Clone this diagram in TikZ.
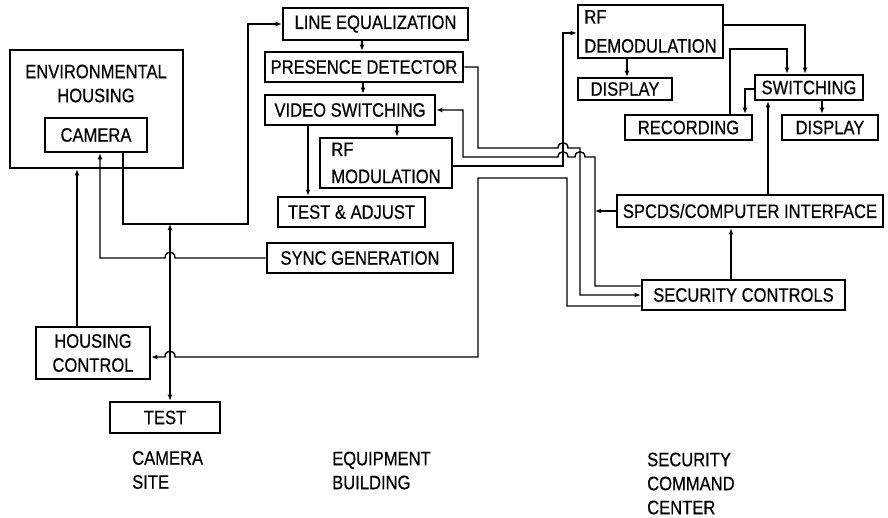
\documentclass[tikz,border=0pt]{standalone}
\usepackage{fontspec}
\setmainfont{Liberation Sans}[FakeStretch=0.85,FakeBold=0.4]
\usetikzlibrary{arrows.meta}
\newcommand\dfont{\fontsize{19.5}{24}\selectfont}
\begin{document}
\begin{tikzpicture}[x=1pt,y=-1pt,
  box/.style={draw, line width=2.6pt, inner sep=0pt, font=\dfont, align=center},
  wire/.style={line width=1.4pt, line join=miter},
  arr/.style={wire, -{Latex[length=6pt,width=5pt]}},
  dbl/.style={wire, {Latex[length=6pt,width=5pt]}-{Latex[length=6pt,width=5pt]}},
  lbl/.style={inner sep=0pt, font=\dfont, align=left, anchor=west}]
\path[fill=white] (0,0) rectangle (888,517);
\useasboundingbox (0,0) rectangle (888,517);

% camera site
\node[box, minimum width=173pt, minimum height=118pt] (env) at (96.5,109) {};
\node[lbl, anchor=center, align=center] (envlbl) at (96,83.5) {ENVIRONMENTAL\\HOUSING};
\node[box, minimum width=102pt, minimum height=34pt] (camera) at (96,135) {CAMERA};
\node[box, minimum width=114pt, minimum height=52pt] (hc) at (93,353) {HOUSING\\CONTROL};
\node[box, minimum width=110pt, minimum height=31pt] (test) at (165,417.5) {TEST};

% equipment building
\node[box, minimum width=185pt, minimum height=32pt] (lineeq) at (375.5,24) {LINE EQUALIZATION};
\node[box, minimum width=198pt, minimum height=30pt] (pd) at (364,67) {PRESENCE DETECTOR};
\node[box, minimum width=170pt, minimum height=30pt] (vs) at (350,110) {VIDEO SWITCHING};
\node[box, minimum width=132pt, minimum height=50pt, align=left, font=\fontsize{19.5}{27}\selectfont] (rfmod) at (386,163) {RF\\MODULATION};
\node[box, minimum width=147pt, minimum height=30pt] (ta) at (351.5,212) {TEST \& ADJUST};
\node[box, minimum width=186pt, minimum height=30pt] (sync) at (360,258) {SYNC GENERATION};

% security command center
\node[box, minimum width=145pt, minimum height=53pt, align=left, font=\fontsize{19.5}{29}\selectfont] (rfdemod) at (650.5,31.5) {RF\\DEMODULATION};
\node[box, minimum width=94pt, minimum height=22pt] (disp1) at (625,89) {DISPLAY};
\node[box, minimum width=108pt, minimum height=25pt] (switch) at (809,87.5) {SWITCHING};
\node[box, minimum width=127pt, minimum height=25pt] (rec) at (688.5,127.5) {RECORDING};
\node[box, minimum width=96pt, minimum height=25pt] (disp2) at (830,127.5) {DISPLAY};
\node[box, minimum width=266pt, minimum height=32pt] (spcds) at (750,211) {SPCDS/COMPUTER INTERFACE};
\node[box, minimum width=203pt, minimum height=30pt] (secctrl) at (743.5,295) {SECURITY CONTROLS};

% area labels
\node[lbl] (camsite) at (132,470) {CAMERA\\SITE};
\node[lbl] (eqbld) at (332,470.5) {EQUIPMENT\\BUILDING};
\node[lbl] (sccenter) at (647,483.5) {SECURITY\\COMMAND\\CENTER};

% junction coordinates
\coordinate (tj) at (170,224);
\coordinate (vsj) at (595,211);

% connectors, camera site
\draw[arr] ([xshift=27pt]camera.south) -- (123,224) -- (248,224) |- (lineeq.west);
\draw[dbl] (tj) -- ([xshift=5pt]test.north);
\draw[arr] (sync.west) -- (175,258) .. controls (175,250) and (165,250) .. (165,258)
  -- (100,258) -- ([xshift=4pt]camera.south);
\draw[arr] ([yshift=-11pt]secctrl.west) -- (567,306) -- (567,178) -- (478,178) -- (478,357)
  -- (175,357) .. controls (175,349) and (165,349) .. (165,357) -- ([yshift=-4pt]hc.east);
\draw[arr] ([xshift=-16pt]hc.north) -- ([xshift=-19.5pt]env.south);

% equipment building chain
\draw[arr] ([xshift=-13.5pt]lineeq.south) -- ([xshift=-2pt]pd.north);
\draw[arr] ([xshift=-1pt]pd.south) -- ([xshift=13pt]vs.north);
\draw[arr] ([xshift=47pt]vs.south) -- ([xshift=11pt]rfmod.north);
\draw[arr] ([xshift=-42pt]vs.south) -- ([xshift=-43.5pt]ta.north);

% links between buildings
\draw[arr] (pd.east) -- (478,67) -- (478,148) -- (558,148)
  .. controls (558,141) and (568,141) .. (568,148) -- (580,148) |- (secctrl.west);
\draw[arr] ([yshift=9pt]secctrl.west) -- (595,286) -- (595,157) -- (585,157)
  .. controls (585,150) and (575,150) .. (575,157) -- (568,157)
  .. controls (568,150) and (558,150) .. (558,157) -- (463,157) |- (vs.east);
\draw[arr] (spcds.west) -- (vsj);
\draw[arr] ([yshift=-3pt]rfmod.east) -- (563,166) -- (563,33) -- ([yshift=-1.5pt]rfdemod.west);

% security command center
\draw[arr] ([xshift=-23.5pt]rfdemod.south) -- ([xshift=2pt]disp1.north);
\draw[arr] ([yshift=6.5pt]rfdemod.east) -- (805,25) -- ([xshift=-4pt]switch.north);
\draw[arr] ([xshift=41.5pt]rec.north) -- (730,49) -- (787,49) -- ([xshift=-22pt]switch.north);
\draw[arr] ([yshift=-1.5pt]switch.west) -- (745,89) -- ([xshift=56.5pt]rec.north);
\draw[arr] ([xshift=13pt]switch.south) -- ([xshift=-8pt]disp2.north);
\draw[arr] ([xshift=18pt]spcds.north) -- ([xshift=-41pt]switch.south);
\draw[arr] ([xshift=-12.5pt]secctrl.north) -- ([xshift=-19pt]spcds.south);
\end{tikzpicture}
\end{document}
